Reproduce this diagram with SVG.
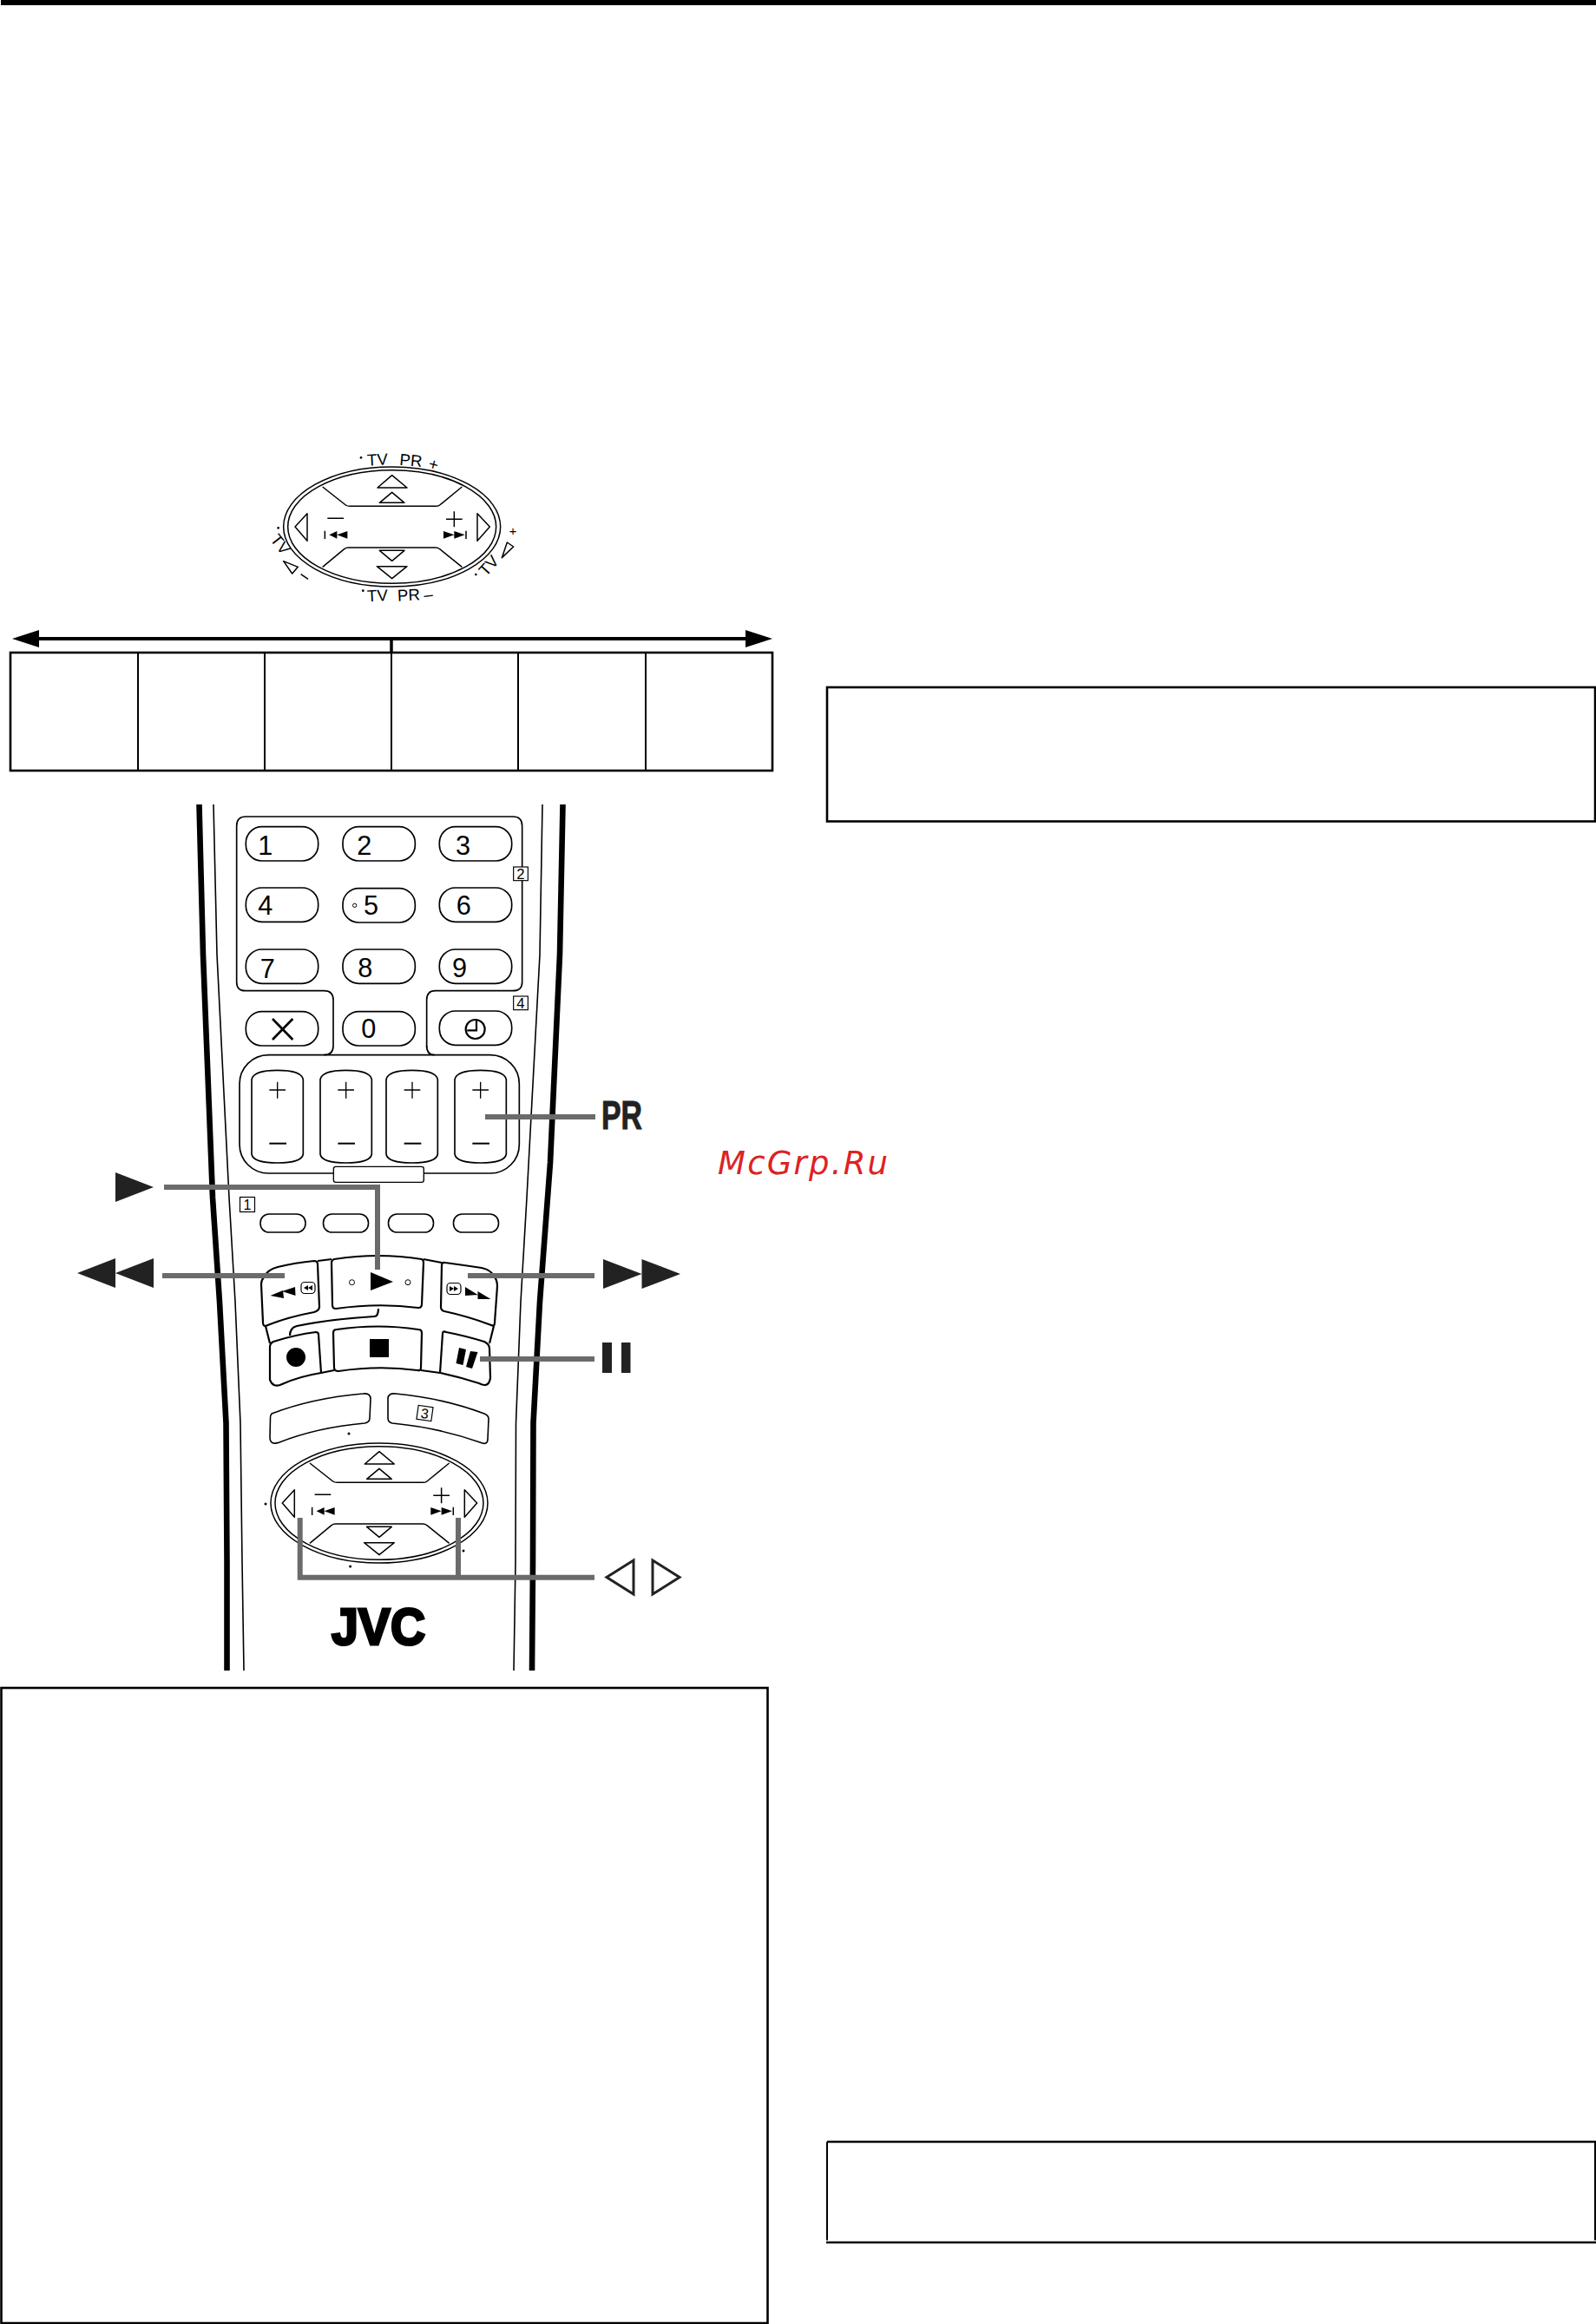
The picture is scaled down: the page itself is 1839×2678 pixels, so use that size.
<svg xmlns="http://www.w3.org/2000/svg" xmlns:xlink="http://www.w3.org/1999/xlink" width="1839" height="2678" viewBox="0 0 1839 2678">
<style>
.o{fill:none;stroke:#000;stroke-width:2.200;stroke-linejoin:round}
.w{fill:#fff;stroke:#000;stroke-width:1.600;stroke-linejoin:round}
.box{fill:none;stroke:#000;stroke-width:2.600}
.thin{fill:none;stroke:#000;stroke-width:1.600}
.thick{fill:none;stroke:#000;stroke-width:6.600;stroke-linejoin:round}
.f{fill:#000}
.g{fill:none;stroke:#6b6b6b;stroke-width:6}
.d{fill:#222}
.t{font-family:"Liberation Sans",Arial,sans-serif;fill:#000}
.dg{font-size:92px}
.nb{font-size:50px;text-anchor:middle}
.lb{font-size:56px}
.dl{fill:none;stroke:#000;stroke-width:4.500;stroke-linejoin:round}
.df{fill:#000}
</style>
<defs>
<g id="dial">
<ellipse cx="515" cy="351" rx="375" ry="207" class="dl"/>
<ellipse cx="515" cy="351" rx="360" ry="196" class="dl"/>
<path class="dl" d="M275 213 L355 276 Q360 280 370 280 H665 Q675 280 680 276 L757 213"/>
<path class="dl" d="M275 490 L350 428 Q355 423 365 423 H665 Q675 423 680 428 L757 490"/>
<path class="dl" d="M515 173 L465 216 H567 Z M515 232 L472 268 H558 Z M472 433 H558 L515 469 Z M463 488 H567 L515 530 Z"/>
<path class="dl" d="M222 305 L180 351 L222 400 Z M810 305 L853 351 L810 400 Z"/>
<path class="dl" d="M292 322 H348 M702 325 H758 M730 298 V352 M283 365 V393 M771 365 V393"/>
<path class="df" d="M298 379 L325 366 V392 Z M325 379 L361 366 V392 Z M693 366 L730 379 L693 392 Z M730 366 L767 379 L730 392 Z"/>
</g>
<g id="bb"><rect width="250" height="118" rx="55" fill="#fff" stroke="#000" stroke-width="5"/></g>
<g id="rk"><path d="M240 972 Q245 940 329 940 Q413 940 418 972 V1230 Q413 1260 329 1260 Q245 1260 240 1230 Z" fill="#fff" stroke="#000" stroke-width="5"/></g>
<g id="pm"><path d="M301 1008 H357 M329 980 V1037" fill="none" stroke="#000" stroke-width="4"/><path d="M301 1193 H360" fill="none" stroke="#000" stroke-width="6"/></g>
</defs>

<rect x="1" y="0" width="1838" height="6" fill="#000"/>

<g id="dial-top" transform="translate(280 490) scale(.33333)">
<use xlink:href="#dial" href="#dial"/>
<text class="t lb" transform="translate(430 140) rotate(-3)">TV</text>
<text class="t lb" transform="translate(540 137) rotate(5)">PR</text>
<text class="t lb" transform="translate(638 150) rotate(14)">+</text>
<text class="t lb" transform="translate(430 610) rotate(-3)">TV</text>
<text class="t lb" transform="translate(535 608) rotate(-3)">PR</text>
<text class="t lb" transform="translate(627 606) rotate(-6)">–</text>
<text class="t lb" transform="translate(92 395) rotate(52)">TV</text>
<text class="t lb" transform="translate(840 525) rotate(-48)">TV</text>
<text class="t" font-size="44" transform="translate(920 380)">+</text>
<path class="dl" d="M895 458 L913 405 L935 420 Z M140 470 L190 490 L170 513 Z M200 515 L225 532"/>
<circle cx="408" cy="112" r="4" class="df"/><circle cx="415" cy="572" r="4" class="df"/><circle cx="122" cy="355" r="4" class="df"/><circle cx="805" cy="516" r="4" class="df"/>
</g>

<g id="table">
<rect x="12" y="752" width="878" height="136" class="box"/>
<path d="M159 752 V888 M305 752 V888 M451 752 V888 M597 752 V888 M744 752 V888" fill="none" stroke="#000" stroke-width="2"/>
</g>

<g id="connector-top">
<path d="M40 736 H865" fill="none" stroke="#000" stroke-width="4"/>
<path d="M451 736 V752" fill="none" stroke="#000" stroke-width="3.500"/>
<path class="f" d="M14 736 L45 726 V746 Z M890 736 L859 726 V746 Z"/>
</g>

<g id="box-1"><rect x="953" y="792" width="885" height="154.500" class="box"/></g>
<g id="box-2">
<path d="M953 2468 H1839 M952 2584 H1839" fill="none" stroke="#000" stroke-width="2.600"/>
<path d="M953 2468 V2581.500 M1838 2468 V2581.500" fill="none" stroke="#000" stroke-width="2"/>
</g>
<g id="box-3"><rect x="1.500" y="1945" width="883" height="732" class="box"/></g>

<g id="remote-body">
<path class="thick" d="M229.500 927 L234 1100 L245 1380 L253 1500 L260.500 1640 L261.500 1800 L261.500 1925"/>
<path class="thick" d="M648.500 927 L645 1100 L634 1340 L622 1500 L614.500 1640 L614 1800 L613 1925"/>
<path class="thin" d="M246 927 L250 1100 L264 1380 L271 1500 L277 1640 L279 1800 L281 1925"/>
<path class="thin" d="M625 927 L622 1100 L607 1380 L600 1500 L594.500 1640 L594 1800 L592 1925"/>
</g>

<g id="keypad" transform="translate(210 920) scale(.33333)">
<path d="M845 860 V697 Q845 665 875 665 H1143 Q1175 665 1175 635 V95 Q1175 63 1143 63 H220 Q188 63 188 95 V635 Q188 665 218 665 H490 Q522 665 522 697 V855 Q522 887 490 887" fill="none" stroke="#000" stroke-width="5"/>
<path d="M845 855 Q845 887 872 887" fill="none" stroke="#000" stroke-width="5"/>
<rect x="198" y="887" width="967" height="409" rx="100" fill="none" stroke="#000" stroke-width="5"/>
<rect x="523" y="1273" width="312" height="54" rx="8" fill="#fff" stroke="#000" stroke-width="4"/>
<use href="#bb" x="220" y="98"/><use href="#bb" x="555" y="98"/><use href="#bb" x="889" y="98"/>
<use href="#bb" x="220" y="309"/><use href="#bb" x="555" y="311"/><use href="#bb" x="889" y="309"/>
<use href="#bb" x="220" y="522"/><use href="#bb" x="555" y="522"/><use href="#bb" x="889" y="522"/>
<use href="#bb" x="220" y="737"/><use href="#bb" x="555" y="737"/><use href="#bb" x="889" y="735"/>
<g class="t dg">
<text x="262" y="196">1</text><text x="604" y="196">2</text><text x="945" y="196">3</text>
<text x="262" y="403">4</text><text x="627" y="403">5</text><text x="947" y="403">6</text>
<text x="269" y="620">7</text><text x="607" y="618">8</text><text x="933" y="618">9</text>
<text x="619" y="828">0</text>
</g>
<circle cx="596" cy="370" r="6.500" fill="none" stroke="#000" stroke-width="3"/>
<path d="M312 762 L382 834 M382 762 L312 834" fill="none" stroke="#000" stroke-width="8"/>
<circle cx="1013" cy="798" r="33" fill="none" stroke="#000" stroke-width="6.500"/>
<path d="M1017 768 V802 H985" fill="none" stroke="#000" stroke-width="6.500"/>
<rect x="1145" y="237" width="50" height="47" fill="#fff" stroke="#000" stroke-width="3.500"/>
<text class="t nb" x="1170" y="278">2</text>
<rect x="1145" y="684" width="50" height="47" fill="#fff" stroke="#000" stroke-width="3.500"/>
<text class="t nb" x="1170" y="725">4</text>
<use href="#rk"/><use href="#rk" x="237"/><use href="#rk" x="465"/><use href="#rk" x="702"/>
<use href="#pm"/><use href="#pm" x="237"/><use href="#pm" x="466"/><use href="#pm" x="702"/>
</g>

<g id="colour-keys">
<rect x="276.500" y="1379.500" width="17" height="17" fill="#fff" stroke="#000" stroke-width="1.200"/>
<text class="t" x="285" y="1394" font-size="16" text-anchor="middle">1</text>
<rect x="300" y="1399" width="52" height="21" rx="10" class="w"/>
<rect x="372.500" y="1399" width="52" height="21" rx="10" class="w"/>
<rect x="447.500" y="1399" width="52" height="21" rx="10" class="w"/>
<rect x="522.500" y="1399" width="52" height="21" rx="10" class="w"/>
</g>

<g id="transport">
<path class="o" d="M366 1453 L382 1451 M488 1451 L509 1455 M370 1582 L385 1579 M485 1579 L507 1582 M306 1528 L311 1548 M569 1528 L564 1548"/>
<path class="o" d="M436 1508 Q436 1517 431 1517 Q380 1520 342 1528 Q334 1530 334 1539"/>
<g id="btn-rew"><path class="o" d="M304 1472 Q308 1463 320 1460 Q340 1455 362 1453 Q366 1453 366 1457 L368 1506 Q368 1510 362 1512 Q330 1518 306 1528 Q303 1528 303 1524 L301 1480 Q301 1475 304 1472 Z"/>
<path class="f" d="M311.500 1493 L326 1487 L327 1496 Z M325 1488 L340 1483 L340.500 1493 Z"/>
<rect x="347" y="1477.500" width="16" height="13" rx="4" fill="none" stroke="#000" stroke-width="1.200"/>
<path class="f" d="M350 1484 L355 1481 V1487 Z M355 1484 L360 1481 V1487 Z"/></g>
<g id="btn-play"><path class="o" d="M382 1455 Q382 1452 385 1451 Q436 1443 486 1451 Q488 1452 488 1455 L486 1503 Q486 1507 482 1507 Q436 1501 387 1508 Q383 1508 383 1504 Z"/>
<path class="f" d="M427 1466 L453 1477 L427 1487 Z"/>
<circle cx="405.500" cy="1477.700" r="3" fill="none" stroke="#000" stroke-width="1"/><circle cx="470" cy="1477.700" r="3" fill="none" stroke="#000" stroke-width="1"/></g>
<g id="btn-ff"><path class="o" d="M509 1458 Q509 1454 513 1455 Q535 1458 555 1461 Q565 1463 569 1470 Q573 1475 573 1482 L570 1524 Q570 1529 566 1527 Q540 1517 512 1511 Q508 1510 508 1506 Z"/>
<path class="f" d="M536 1483 L550.500 1492 L536 1493 Z M550.500 1488 L565.500 1497 L550.500 1497 Z"/>
<rect x="515" y="1478.500" width="16" height="13" rx="4" fill="none" stroke="#000" stroke-width="1.200"/>
<path class="f" d="M518 1482 L523 1485 L518 1488 Z M523 1482 L528 1485 L523 1488 Z"/></g>
<g id="btn-rec"><path class="o" d="M311 1552 Q311 1548 315 1546 Q340 1538 364 1535 Q367 1535 367 1538 L370 1582 Q345 1586 325 1595 Q315 1600 311 1590 Z"/><ellipse cx="341" cy="1564" rx="11" ry="11" class="f"/></g>
<g id="btn-stop"><path class="o" d="M384 1536 Q384 1532 388 1532 Q436 1525 482 1532 Q486 1532 486 1536 L485 1576 Q485 1580 481 1579 Q436 1573 390 1580 Q385 1580 385 1576 Z"/><rect x="426" y="1543" width="22" height="21" class="f"/></g>
<g id="btn-pause"><path class="o" d="M510 1537 Q510 1533 514 1535 Q535 1539 558 1546 Q564 1549 564 1554 L565 1588 Q563 1600 552 1594 Q530 1587 507 1582 Z"/>
<path class="f" d="M529 1553 L537 1555 L533.500 1573 L525.500 1571 Z M542 1557 L550.500 1558 L544 1577 L537 1575 Z"/></g>
</g>

<g id="lower-keys">
<path class="w" d="M313 1629 Q360 1611 418 1606 Q427 1605 427 1612 L426 1634 Q426 1639 420 1640 Q365 1645 322 1662 Q311 1666 311 1656 L311.500 1634 Q311.500 1631 313 1629 Z"/>
<path class="w" d="M456 1606 Q510 1611 558 1629 Q563 1631 563 1635 L562 1658 Q562 1666 553 1662 Q505 1645 452 1640 Q447 1639 447 1634 L447 1612 Q447 1605 456 1606 Z"/>
<g transform="rotate(8 489.500 1628.500)"><rect x="481" y="1620.500" width="17" height="16" fill="#fff" stroke="#000" stroke-width="1.200"/>
<text class="t" x="489.500" y="1634.500" font-size="16" text-anchor="middle">3</text></g>
<circle cx="402" cy="1652" r="1.500" class="f"/><circle cx="306" cy="1733" r="1.500" class="f"/><circle cx="534" cy="1787" r="1.500" class="f"/><circle cx="403.600" cy="1805" r="1.500" class="f"/>
</g>

<g id="dial-remote" transform="translate(265.300 1615) scale(.33333)">
<use xlink:href="#dial" href="#dial"/>
</g>

<g id="logo">
<text class="t" x="382" y="1895" font-size="59" font-weight="bold" stroke="#000" stroke-width="3" textLength="108" lengthAdjust="spacingAndGlyphs">JVC</text>
</g>

<g id="connectors">
<path class="g" d="M189 1368 H435 V1463"/>
<path class="g" d="M187 1470 H328"/>
<path class="g" d="M539 1470 H685"/>
<path class="g" d="M553 1566 H685"/>
<path class="g" d="M559 1287 H686"/>
<path class="g" d="M345.700 1749 V1817.700 H685 M528 1749 V1817.700"/>
</g>

<g id="label-play"><path class="d" d="M133 1351 L177 1368 L133 1385 Z"/></g>
<g id="label-rew"><path class="d" d="M89 1467 L133 1450 V1484 Z M133 1467 L177 1450 V1484 Z"/></g>
<g id="label-ff"><path class="d" d="M695 1451 L739.500 1468 L695 1485 Z M739.500 1451 L784 1468 L739.500 1485 Z"/></g>
<g id="label-pause"><rect x="694" y="1547" width="11" height="35" class="d"/><rect x="716" y="1547" width="10.500" height="35" class="d"/></g>
<g id="label-pr"><text x="693" y="1301" font-family="'Liberation Sans',Arial,sans-serif" font-weight="bold" font-size="47" fill="#222" stroke="#222" stroke-width="1" textLength="47" lengthAdjust="spacingAndGlyphs">PR</text></g>
<g id="label-lr"><path d="M730 1798 L699 1817.500 L730 1837 Z M752 1798 L783 1817.500 L752 1837 Z" fill="none" stroke="#222" stroke-width="3"/></g>

<g id="watermark"><text x="827" y="1353" font-family="'DejaVu Sans',sans-serif" font-style="oblique" font-size="37" fill="#dd2222" textLength="196" lengthAdjust="spacing">McGrp.Ru</text></g>
</svg>
